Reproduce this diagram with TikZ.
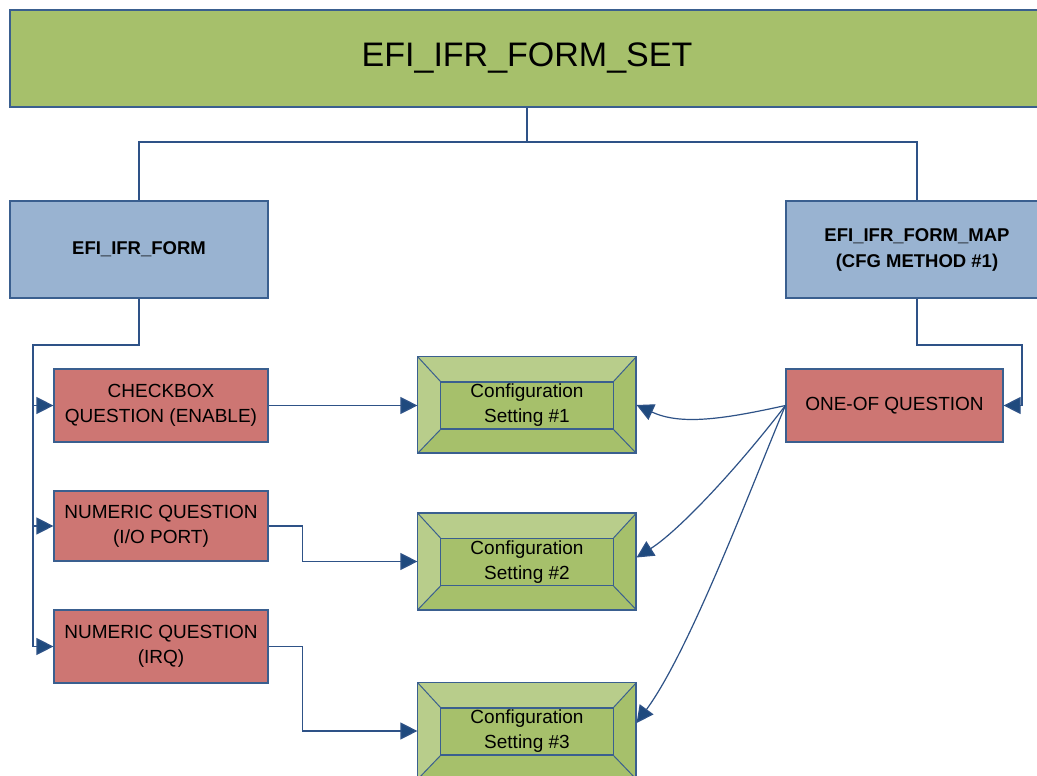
\documentclass[tikz,border=0pt]{standalone}
\usepackage{fontspec}
\setmainfont{Liberation Sans}
\usetikzlibrary{arrows.meta,calc}
\definecolor{lineblue}{HTML}{2E5287}
\definecolor{arrowblue}{HTML}{1F4A7E}
\definecolor{edgeblue}{HTML}{3A5F8F}
\definecolor{titlegreen}{HTML}{A6C06B}
\definecolor{lightgreen}{HTML}{B8CD8B}
\definecolor{boxblue}{HTML}{99B3D1}
\definecolor{boxred}{HTML}{CD7673}
\tikzset{
  box/.style={draw=edgeblue, line width=1.2pt, inner sep=0pt, align=center, text=black},
  titlebox/.style={box, fill=titlegreen, font=\fontsize{34}{40}\selectfont},
  bluebox/.style={box, fill=boxblue, font=\bfseries\fontsize{18.5}{26}\selectfont},
  redbox/.style={box, fill=boxred, font=\fontsize{19}{25}\selectfont},
  cfgouter/.style={box, fill=titlegreen, minimum width=218pt, minimum height=96pt},
  cfginner/.style={box, fill=titlegreen, minimum width=173pt, minimum height=47pt, font=\fontsize{19}{25}\selectfont},
  conn/.style={draw=lineblue, line width=1.2pt},
  arr/.style={conn, -{Triangle[length=17pt,width=17pt,fill=arrowblue]}},
}
\newcommand\cfgbox[4]{%
  \node[cfgouter] (#1) at (#2,#3) {};
  \path ([shift={(23,25)}]#1.north west) coordinate (#1-inw)
        ([shift={(-23,25)}]#1.north east) coordinate (#1-ine)
        ([shift={(-23,-24)}]#1.south east) coordinate (#1-ise)
        ([shift={(23,-24)}]#1.south west) coordinate (#1-isw);
  \fill[lightgreen] (#1.north west) -- (#1.north east) -- (#1-ine) -- (#1-inw) -- cycle;
  \fill[lightgreen] (#1.north west) -- (#1-inw) -- (#1-isw) -- (#1.south west) -- cycle;
  \draw[edgeblue, line width=1.2pt] (#1.north west) rectangle (#1.south east);
  \draw[edgeblue, line width=1pt] (#1.north west) -- (#1-inw) (#1.north east) -- (#1-ine)
        (#1.south east) -- (#1-ise) (#1.south west) -- (#1-isw);
  \node[cfginner] (#1-in) at ($(#1-inw)!0.5!(#1-ise)$) {#4};
}
\begin{document}
\begin{tikzpicture}[x=1pt,y=-1pt]
\useasboundingbox (0,0) rectangle (1037,776);
\clip (0,0) rectangle (1037,776);
\fill[white] (0,0) rectangle (1037,776);

\node[titlebox, minimum width=1034pt, minimum height=97pt] (title) at (527,58.5) {EFI\_IFR\_FORM\_SET};
\node[bluebox, minimum width=258pt, minimum height=97pt] (form) at (139,249.5) {EFI\_IFR\_FORM};
\node[bluebox, minimum width=262pt, minimum height=97pt] (map) at (917,249.5) {EFI\_IFR\_FORM\_MAP\\(CFG METHOD \#1)};

\node[redbox, minimum width=214pt, minimum height=73pt] (cb) at (161,405.5) {CHECKBOX\\QUESTION (ENABLE)};
\node[redbox, minimum width=214pt, minimum height=70pt] (io) at (161,526) {NUMERIC QUESTION\\(I/O PORT)};
\node[redbox, minimum width=214pt, minimum height=73pt] (irq) at (161,646.5) {NUMERIC QUESTION\\(IRQ)};
\node[redbox, minimum width=217pt, minimum height=73pt] (oneof) at (894.5,405.5) {ONE-OF QUESTION};

\cfgbox{c1}{527}{405}{Configuration\\Setting \#1}
\cfgbox{c2}{527}{561.5}{Configuration\\Setting \#2}
\cfgbox{c3}{527}{731}{Configuration\\Setting \#3}

% top tree
\coordinate (split) at (527,142);
\draw[conn] (title.south) -- (split);
\draw[conn] (split) -| (form.north);
\draw[conn] (split) -| (map.north);

% left spine
\coordinate (spine) at (33,345);
\draw[conn] (form.south) |- (spine) -- (spine |- irq.west);
\draw[arr] (spine |- cb.west) -- (cb.west);
\draw[arr] (spine |- io.west) -- (io.west);
\draw[arr] (spine |- irq.west) -- (irq.west);

% questions to settings
\draw[arr] (cb.east) -- (cb.east -| c1.west);
\draw[arr] (io.east) -- ++(34,0) |- (c2.west);
\draw[arr] (irq.east) -- ++(34,0) |- (c3.west);

% form map to one-of
\coordinate (mapbend) at (1022,345);
\draw[arr] (map.south) |- (mapbend) |- (oneof.east);

% one-of to settings
\draw[arr] (oneof.west) .. controls (720,420) and (680,425) .. (c1.east);
\draw[arr] (oneof.west) .. controls (740,465) and (680,530) .. ([yshift=4pt]c2.east);
\draw[arr] (oneof.west) .. controls (750,490) and (690,650) .. ([yshift=8pt]c3.east);
\end{tikzpicture}
\end{document}
